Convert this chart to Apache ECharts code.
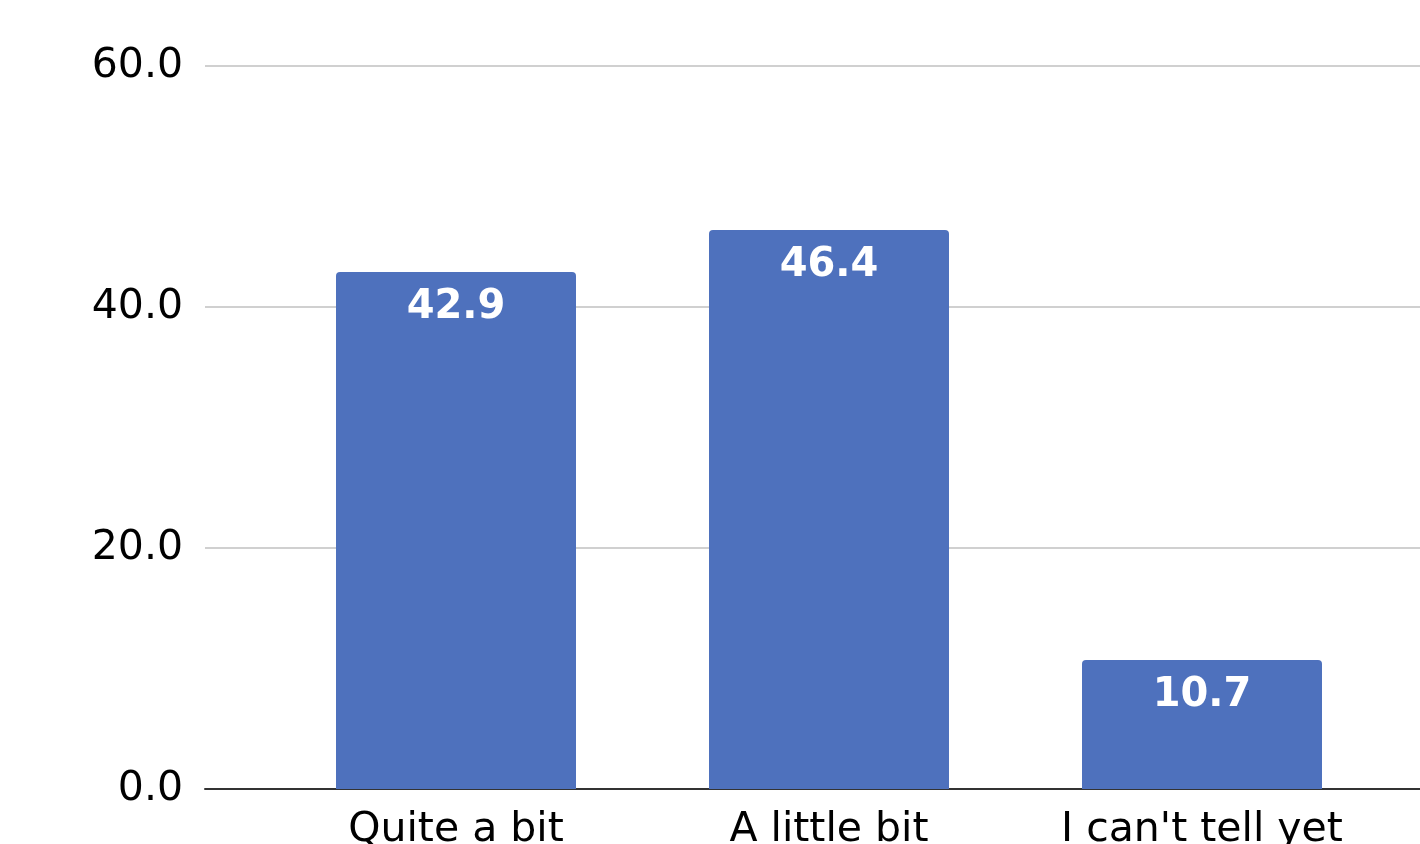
<!DOCTYPE html>
<html>
<head>
<meta charset="utf-8">
<script src="https://cdn.jsdelivr.net/npm/echarts@6/dist/echarts.min.js"></script>
<style>
  html, body { margin: 0; padding: 0; background: #fff; }
  #chart { width: 1420px; height: 844px; }
</style>
</head>
<body>
<div id="chart"></div>
<script>
// data
const categories = ['Quite a bit', 'A little bit', "I can't tell yet"];
const values = [42.9, 46.4, 10.7];
const yTicks = { min: 0, max: 60, interval: 20 };

const chart = echarts.init(document.getElementById('chart'), null, { renderer: 'canvas' });
const font = 'DejaVu Sans';

const option = {
  animation: false,
  backgroundColor: '#ffffff',
  // grid 0: gridlines + baseline spanning full width, grid 1: the bars
  // outerBoundsMode none so the cut-off x labels don't squeeze the grid
  grid: [
    { left: 205, right: 0, top: 66, bottom: 55, outerBoundsMode: 'none' },
    { left: 269.5, right: 31.5, top: 66, bottom: 55, outerBoundsMode: 'none' }
  ],
  xAxis: [
    {
      gridIndex: 0, type: 'category', data: [''],
      axisLine: { show: true, lineStyle: { color: '#333333', width: 2 } },
      axisTick: { show: false }, axisLabel: { show: false }
    },
    {
      gridIndex: 1, type: 'category', data: categories,
      axisLine: { show: false }, axisTick: { show: false },
      axisLabel: { color: '#000', fontFamily: font, fontSize: 41, margin: 21 }
    }
  ],
  yAxis: [
    {
      gridIndex: 0, type: 'value', min: yTicks.min, max: yTicks.max, interval: yTicks.interval,
      axisLine: { show: false }, axisTick: { show: false },
      axisLabel: {
        color: '#000', fontFamily: font, fontSize: 41, margin: 22,
        formatter: v => v.toFixed(1)
      },
      splitLine: { lineStyle: { color: '#d0d0d0', width: 2 } }
    },
    {
      gridIndex: 1, type: 'value', min: yTicks.min, max: yTicks.max, interval: yTicks.interval,
      show: false, splitLine: { show: false }
    }
  ],
  series: [{
    type: 'bar',
    xAxisIndex: 1, yAxisIndex: 1,
    data: values,
    barWidth: 240,
    z: 5,
    itemStyle: { color: '#4e71bd', borderRadius: [4, 4, 0, 0] },
    label: {
      show: true, position: 'insideTop', distance: 16,
      color: '#fff', fontFamily: font, fontWeight: 'bold', fontSize: 40,
      formatter: p => p.value.toFixed(1)
    }
  }]
};

chart.setOption(option);
</script>
</body>
</html>
